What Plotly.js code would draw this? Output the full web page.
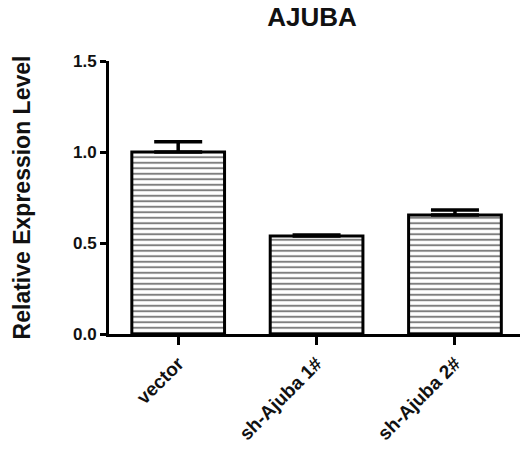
<!DOCTYPE html>
<html>
<head>
<meta charset="utf-8">
<script src="https://cdn.plot.ly/plotly-3.0.1.min.js"></script>
<style>html,body{margin:0;padding:0;background:#fff;}#chart{width:520px;height:451px;}</style>
</head>
<body>
<div id="chart"></div>
<script>
const categories = ["vector", "sh-Ajuba 1#", "sh-Ajuba 2#"];
const values = [1.0, 0.538, 0.654];
const errors = [0.057, 0.006, 0.027];
const yTickVals = [0, 0.5, 1.0, 1.5];
const yTickText = ["0.0", "0.5", "1.0", "1.5"];

const FONT = "Arial, 'Liberation Sans', sans-serif";

const trace = {
  type: "bar",
  x: categories,
  y: values,
  width: 0.67,
  marker: {
    color: "#ffffff",
    line: {color: "#000000", width: 3},
    pattern: {shape: "-", size: 5.5, solidity: 0.36, fgcolor: "#000000", bgcolor: "#ffffff", fillmode: "overlay"}
  },
  error_y: {
    type: "data",
    array: errors,
    arrayminus: [0, 0, 0],
    symmetric: false,
    color: "#000000",
    thickness: 3.5,
    width: 24
  },
  hoverinfo: "none"
};

const layout = {
  width: 520,
  height: 451,
  margin: {l: 109, r: 0, t: 61, b: 117},
  paper_bgcolor: "#ffffff",
  plot_bgcolor: "#ffffff",
  showlegend: false,
  font: {family: FONT, color: "#000000"},
  title: {
    text: "AJUBA",
    font: {family: FONT, size: 26, weight: "bold", color: "#111"},
    x: 0.6, xanchor: "center",
    y: 0.962, yanchor: "middle"
  },
  xaxis: {
    type: "category",
    range: [-0.5, 2.47],
    showline: true,
    linecolor: "#000000",
    linewidth: 3,
    ticks: "outside",
    ticklen: 8,
    tickwidth: 3,
    tickcolor: "#000000",
    tickangle: -45,
    tickfont: {family: FONT, size: 19, weight: "bold", color: "#111"},
    showgrid: false,
    zeroline: false,
    fixedrange: true
  },
  yaxis: {
    range: [0, 1.5],
    tickvals: yTickVals,
    ticktext: yTickText,
    showline: true,
    linecolor: "#000000",
    linewidth: 3,
    ticks: "outside",
    ticklen: 6,
    tickwidth: 3,
    tickcolor: "#000000",
    tickfont: {family: FONT, size: 17, weight: "bold", color: "#111"},
    showgrid: false,
    zeroline: false,
    fixedrange: true,
    title: {
      text: "Relative Expression Level",
      font: {family: FONT, size: 23, weight: "bold", color: "#111"},
      standoff: 36
    }
  }
};

Plotly.newPlot("chart", [trace], layout, {staticPlot: true, displayModeBar: false});
</script>
</body>
</html>
